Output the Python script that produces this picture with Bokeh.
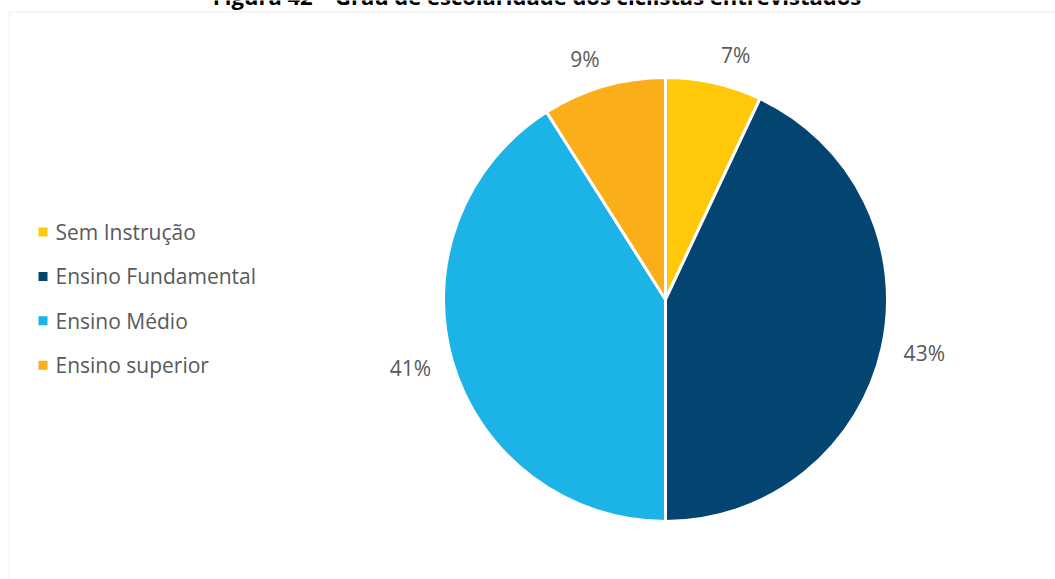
import math
from bokeh.plotting import figure
from bokeh.models import Range1d, ColumnDataSource, BoxAnnotation
from bokeh.core.properties import value
from bokeh.embed import file_html
from bokeh.resources import INLINE

# ---- data ----
categories = ["Sem Instrução", "Ensino Fundamental", "Ensino Médio", "Ensino superior"]
percentages = [7, 43, 41, 9]
colors = ["#FFC90A", "#034570", "#1CB3E6", "#F9AE1A"]
title_text = "Figura 42 – Grau de escolaridade dos ciclistas entrevistados"

W, H = 1055, 579
FONT = "Open Sans"
TXT = "#595959"

p = figure(width=W, height=H, x_range=Range1d(0, W), y_range=Range1d(0, H),
           output_backend="svg", toolbar_location=None, min_border=0)
p.axis.visible = False
p.grid.visible = False
p.outline_line_color = None
p.background_fill_color = "white"
p.border_fill_color = "white"

# frame of the chart area
p.add_layout(BoxAnnotation(left=8.5, right=W + 20, top=H - 11.5, bottom=-20,
                           fill_alpha=0, line_color="#D9D9D9", line_width=1.5))

# pie
cx, cy, R = 665, H - 299, 222
total = sum(percentages)
starts, ends, cum = [], [], 0.0
for v in percentages:
    starts.append(math.pi / 2 - 2 * math.pi * cum / total)
    cum += v
    ends.append(math.pi / 2 - 2 * math.pi * cum / total)

src = ColumnDataSource(dict(start=starts, end=ends, color=colors, cat=categories))
p.wedge(x=cx, y=cy, radius=R, start_angle="start", end_angle="end", direction="clock",
        fill_color="color", line_color="white", line_width=3, source=src)

# data labels outside the slices
lx, ly, la, lb, lt = [], [], [], [], []
for s, e, v in zip(starts, ends, percentages):
    mid = (s + e) / 2
    c, sn = math.cos(mid), math.sin(mid)
    if abs(sn) < 0.35:
        r = R + 22
        base = "middle"
    else:
        r = R + 14
        base = "bottom" if sn > 0 else "top"
    lx.append(cx + r * c + (4 if (sn > 0.35 and c > 0) else 0))
    ly.append(cy + r * sn)
    la.append("left" if c > 0 else "right")
    lb.append(base)
    lt.append(f"{v}%")
p.text(x=lx, y=ly, text=lt, text_align=la, text_baseline=lb,
       text_font=value(FONT), text_font_size="21px", text_color=TXT)

# legend
ys = [H - (231.5 + 44.4 * i) for i in range(len(categories))]
p.scatter(x=[42.5] * len(categories), y=ys, marker="square", size=9,
          fill_color=colors, line_color=None)
p.text(x=[55] * len(categories), y=ys, text=categories,
       text_baseline="middle", text_align="left", text_font=value(FONT),
       text_font_size="21px", text_color=TXT)

# title (partly cut at the top, as in the original)
p.text(x=[W / 2 + 9], y=[H + 5], text=[title_text], text_align="center",
       text_baseline="alphabetic", text_font=value(FONT), text_font_size="22px",
       text_font_style="bold", text_color="#000000")

open("out.html", "w").write(file_html(p, INLINE))
